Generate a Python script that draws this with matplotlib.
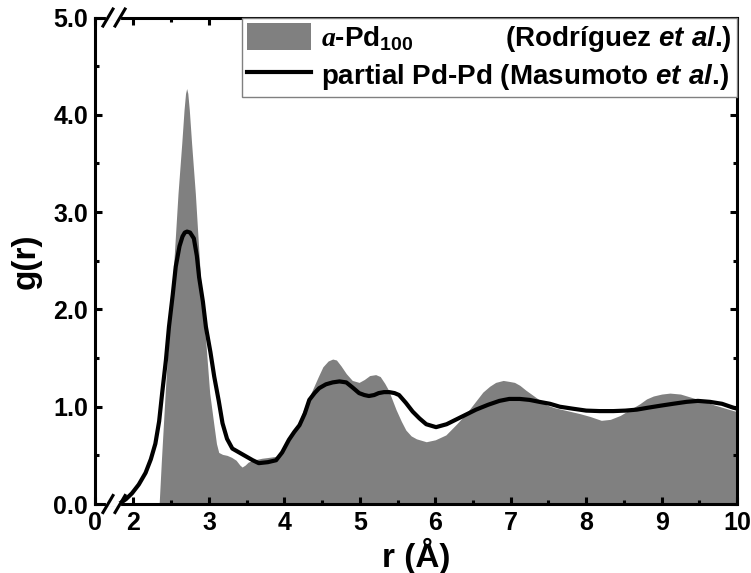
import matplotlib
matplotlib.use("Agg")
import matplotlib.pyplot as plt
from matplotlib.patches import Patch
from matplotlib.lines import Line2D
from matplotlib.ticker import MultipleLocator, FixedLocator

plt.rcParams["font.family"] = ["Liberation Sans", "DejaVu Sans"]
plt.rcParams["font.weight"] = "bold"
plt.rcParams["mathtext.fontset"] = "custom"
plt.rcParams["mathtext.rm"] = "Liberation Sans:bold"
plt.rcParams["mathtext.it"] = "Liberation Sans:bold:italic"
plt.rcParams["mathtext.sf"] = "Liberation Serif:italic"

# a-Pd100 (Rodriguez et al.) - filled curve
r_sim = [2.34, 2.37, 2.42, 2.46, 2.51, 2.55, 2.59, 2.64, 2.67, 2.69, 2.705, 2.72,
         2.74, 2.77, 2.82, 2.86, 2.90, 2.96, 3.01, 3.07, 3.10, 3.13, 3.18, 3.24,
         3.30, 3.36, 3.41, 3.44, 3.48, 3.52, 3.58, 3.70, 3.80, 3.89, 3.96, 4.03,
         4.12, 4.20, 4.28, 4.37, 4.45, 4.51, 4.58, 4.64, 4.69, 4.75, 4.82, 4.90,
         4.99, 5.06, 5.13, 5.21, 5.27, 5.33, 5.38, 5.43, 5.48, 5.55, 5.61, 5.68,
         5.75, 5.88, 6.00, 6.14, 6.28, 6.41, 6.52, 6.63, 6.72, 6.80, 6.90, 6.98,
         7.05, 7.12, 7.20, 7.29, 7.38, 7.47, 7.58, 7.69, 7.80, 7.91, 8.05, 8.20,
         8.32, 8.45, 8.58, 8.71, 8.80, 8.89, 9.00, 9.11, 9.25, 9.42, 9.55, 9.69,
         9.82, 9.95, 10.0]
g_sim = [0.00, 0.45, 1.14, 1.65, 2.17, 2.68, 3.19, 3.71, 4.05, 4.22, 4.27, 4.22,
         4.05, 3.71, 3.19, 2.68, 2.17, 1.65, 1.14, 0.79, 0.62, 0.53, 0.51, 0.50,
         0.48, 0.45, 0.40, 0.38, 0.40, 0.43, 0.45, 0.47, 0.48, 0.49, 0.53, 0.60,
         0.73, 0.86, 1.02, 1.17, 1.31, 1.41, 1.47, 1.49, 1.48, 1.42, 1.34, 1.27,
         1.25, 1.28, 1.32, 1.33, 1.31, 1.24, 1.17, 1.07, 0.97, 0.85, 0.76, 0.70,
         0.67, 0.64, 0.66, 0.71, 0.82, 0.93, 1.04, 1.15, 1.21, 1.25, 1.27, 1.26,
         1.25, 1.22, 1.17, 1.12, 1.07, 1.02, 0.99, 0.97, 0.95, 0.93, 0.90, 0.86,
         0.87, 0.91, 0.97, 1.03, 1.08, 1.11, 1.13, 1.14, 1.13, 1.09, 1.06, 1.02,
         0.99, 0.96, 0.95]

# partial Pd-Pd (Masumoto et al.) - line
r_exp = [1.81, 1.90, 1.98, 2.07, 2.16, 2.23, 2.29, 2.34, 2.38, 2.43, 2.47, 2.52,
         2.56, 2.61, 2.65, 2.68, 2.71, 2.75, 2.80, 2.84, 2.87, 2.92, 2.96, 3.02,
         3.07, 3.13, 3.18, 3.24, 3.31, 3.40, 3.49, 3.58, 3.66, 3.78, 3.89, 3.97,
         4.06, 4.13, 4.20, 4.27, 4.33, 4.40, 4.46, 4.55, 4.64, 4.73, 4.82, 4.90,
         4.99, 5.06, 5.12, 5.19, 5.25, 5.32, 5.39, 5.46, 5.52, 5.61, 5.70, 5.79,
         5.88, 6.01, 6.15, 6.28, 6.41, 6.54, 6.70, 6.85, 6.98, 7.12, 7.25, 7.38,
         7.52, 7.65, 7.82, 8.00, 8.18, 8.36, 8.52, 8.67, 8.82, 8.98, 9.15, 9.33,
         9.48, 9.64, 9.80, 9.95, 10.0]
g_exp = [0.00, 0.05, 0.11, 0.20, 0.32, 0.46, 0.62, 0.85, 1.14, 1.48, 1.82, 2.15,
         2.44, 2.65, 2.75, 2.79, 2.80, 2.79, 2.73, 2.55, 2.33, 2.08, 1.82, 1.56,
         1.31, 1.06, 0.83, 0.67, 0.57, 0.53, 0.49, 0.45, 0.42, 0.43, 0.45, 0.53,
         0.66, 0.74, 0.81, 0.93, 1.07, 1.14, 1.19, 1.23, 1.25, 1.26, 1.25, 1.20,
         1.14, 1.12, 1.11, 1.12, 1.14, 1.15, 1.15, 1.14, 1.12, 1.04, 0.95, 0.88,
         0.82, 0.79, 0.82, 0.87, 0.92, 0.97, 1.02, 1.06, 1.08, 1.08, 1.07, 1.05,
         1.03, 1.00, 0.98, 0.96, 0.955, 0.955, 0.96, 0.97, 0.99, 1.01, 1.03, 1.05,
         1.06, 1.05, 1.03, 0.99, 0.98]

x_ticks = [1.49, 2, 3, 4, 5, 6, 7, 8, 9, 10]
x_ticklabels = ["0", "2", "3", "4", "5", "6", "7", "8", "9", "10"]
y_ticks = [0, 1, 2, 3, 4, 5]
y_ticklabels = ["0.0", "1.0", "2.0", "3.0", "4.0", "5.0"]

fig = plt.figure(figsize=(7.51, 5.73), dpi=100)
ax = fig.add_axes([0.1265, 0.1204, 0.855, 0.849])

ax.fill_between(r_sim, 0, g_sim, color="#808080", lw=0, zorder=1)
ax.plot(r_exp, g_exp, color="black", lw=3, zorder=2, solid_joinstyle="round")

ax.set_xlim(1.49, 10)
ax.set_ylim(0, 5)
ax.xaxis.set_major_locator(FixedLocator(x_ticks))
ax.set_xticklabels(x_ticklabels)
ax.xaxis.set_minor_locator(FixedLocator([2.5, 3.5, 4.5, 5.5, 6.5, 7.5, 8.5, 9.5]))
ax.set_yticks(y_ticks)
ax.set_yticklabels(y_ticklabels)
ax.yaxis.set_minor_locator(MultipleLocator(0.5))
ax.tick_params(which="both", direction="in", top=True, right=True, width=2.2,
               labelsize=18, pad=5)
ax.tick_params(which="major", length=5)
ax.tick_params(which="minor", length=3)
for s in ax.spines.values():
    s.set_linewidth(2.2)

ax.set_xlabel("r (Å)", fontsize=24, fontweight="bold", labelpad=2)
ax.set_ylabel("g(r)", fontsize=24, fontweight="bold", labelpad=8)

# axis break marks on bottom and top spines
for yb in (0, 1):
    ax.plot([0.021, 0.038], [yb, yb], transform=ax.transAxes, color="white",
            lw=3, clip_on=False, zorder=5)
    for xc in (0.0202, 0.039):
        ax.plot([xc - 0.0078, xc + 0.0078], [yb - 0.0175, yb + 0.0175],
                transform=ax.transAxes, color="black", lw=2.2, clip_on=False,
                zorder=6)

handles = [Patch(facecolor="#808080", edgecolor="none"),
           Line2D([], [], color="black", lw=3)]
labels = [r"$\mathsf{a}$-Pd$_{100}$            (Rodríguez $et\ al$.)",
          r"partial Pd-Pd (Masumoto $et\ al$.)"]
leg = ax.legend(handles, labels, loc="upper right", borderaxespad=0,
                fontsize=20, frameon=True, fancybox=False, framealpha=1,
                edgecolor="#808080", handlelength=2.3, handleheight=1.1,
                handletextpad=0.35, borderpad=0.2, labelspacing=0.25)
leg.get_frame().set_linewidth(1)
leg.set_zorder(10)

fig.savefig("out.png", dpi=100)
